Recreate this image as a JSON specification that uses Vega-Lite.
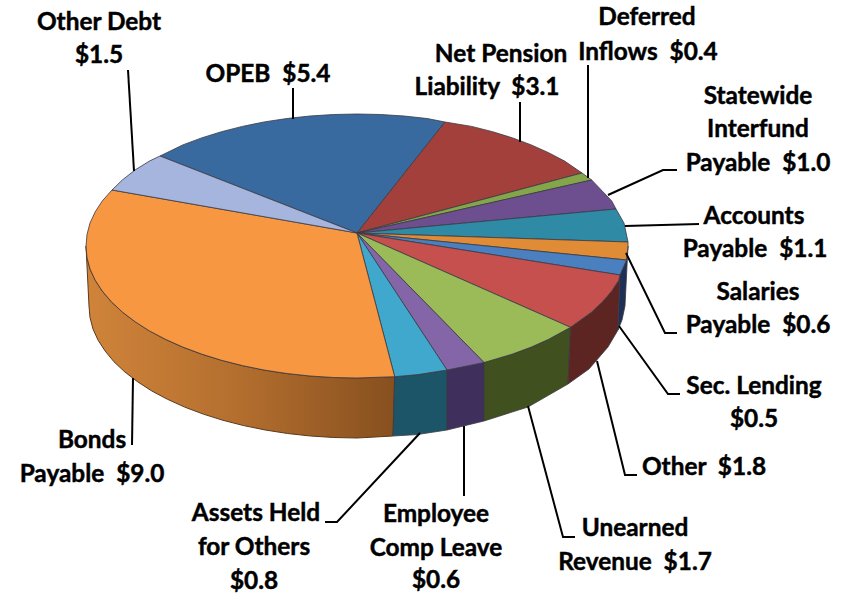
{"$schema":"https://vega.github.io/schema/vega-lite/v6.json","autosize":{"type":"fit","contains":"padding"},"width":852,"height":596,"padding":0,"background":"white","config":{"view":{"stroke":null}},
"datasets":{
"pie":[
{"piece":"Bonds side","seq":0,"x":394.7,"y":376.7},{"piece":"Bonds side","seq":1,"x":357,"y":378},{"piece":"Bonds side","seq":2,"x":333.4,"y":377.5},{"piece":"Bonds side","seq":3,"x":310,"y":376},{"piece":"Bonds side","seq":4,"x":286.8,"y":373.5},{"piece":"Bonds side","seq":5,"x":264.3,"y":370.1},{"piece":"Bonds side","seq":6,"x":242.4,"y":365.6},{"piece":"Bonds side","seq":7,"x":221.5,"y":360.3},{"piece":"Bonds side","seq":8,"x":201.6,"y":354.1},{"piece":"Bonds side","seq":9,"x":182.8,"y":347.1},{"piece":"Bonds side","seq":10,"x":165.4,"y":339.3},{"piece":"Bonds side","seq":11,"x":149.4,"y":330.9},{"piece":"Bonds side","seq":12,"x":135,"y":321.7},{"piece":"Bonds side","seq":13,"x":122.3,"y":312},{"piece":"Bonds side","seq":14,"x":111.4,"y":301.8},{"piece":"Bonds side","seq":15,"x":102.3,"y":291.1},{"piece":"Bonds side","seq":16,"x":95.2,"y":280.2},{"piece":"Bonds side","seq":17,"x":90,"y":269},{"piece":"Bonds side","seq":18,"x":87,"y":257.5},{"piece":"Bonds side","seq":19,"x":86,"y":246},{"piece":"Bonds side","seq":20,"x":89,"y":306},{"piece":"Bonds side","seq":21,"x":90,"y":317.5},{"piece":"Bonds side","seq":22,"x":93,"y":329},{"piece":"Bonds side","seq":23,"x":98.1,"y":340.2},{"piece":"Bonds side","seq":24,"x":105.2,"y":351.1},{"piece":"Bonds side","seq":25,"x":114,"y":361.8},{"piece":"Bonds side","seq":26,"x":124.9,"y":372},{"piece":"Bonds side","seq":27,"x":137.5,"y":381.7},{"piece":"Bonds side","seq":28,"x":151.7,"y":390.9},{"piece":"Bonds side","seq":29,"x":167.5,"y":399.3},{"piece":"Bonds side","seq":30,"x":184.7,"y":407.1},{"piece":"Bonds side","seq":31,"x":203.3,"y":414.1},{"piece":"Bonds side","seq":32,"x":223,"y":420.3},{"piece":"Bonds side","seq":33,"x":243.7,"y":425.6},{"piece":"Bonds side","seq":34,"x":265.3,"y":430},{"piece":"Bonds side","seq":35,"x":287.6,"y":433.5},{"piece":"Bonds side","seq":36,"x":310.5,"y":436},{"piece":"Bonds side","seq":37,"x":333.7,"y":437.5},{"piece":"Bonds side","seq":38,"x":357,"y":438},{"piece":"Bonds side","seq":39,"x":393,"y":436},
{"piece":"Assets side","seq":0,"x":447,"y":370},{"piece":"Assets side","seq":1,"x":418,"y":374.6},{"piece":"Assets side","seq":2,"x":394.7,"y":376.7},{"piece":"Assets side","seq":3,"x":393,"y":436},{"piece":"Assets side","seq":4,"x":417,"y":434.6},{"piece":"Assets side","seq":5,"x":447,"y":430},
{"piece":"Employee side","seq":0,"x":484,"y":362.5},{"piece":"Employee side","seq":1,"x":447,"y":370},{"piece":"Employee side","seq":2,"x":447,"y":430},{"piece":"Employee side","seq":3,"x":484,"y":421},
{"piece":"Unearned side","seq":0,"x":570.5,"y":327.3},{"piece":"Unearned side","seq":1,"x":548.6,"y":339.3},{"piece":"Unearned side","seq":2,"x":531.2,"y":347.1},{"piece":"Unearned side","seq":3,"x":512.4,"y":354.1},{"piece":"Unearned side","seq":4,"x":484,"y":362.5},{"piece":"Unearned side","seq":5,"x":484,"y":421},{"piece":"Unearned side","seq":6,"x":528,"y":407},{"piece":"Unearned side","seq":7,"x":568,"y":384},
{"piece":"Other side","seq":0,"x":620,"y":275},{"piece":"Other side","seq":1,"x":618.8,"y":280.2},{"piece":"Other side","seq":2,"x":611.7,"y":291.1},{"piece":"Other side","seq":3,"x":602.5,"y":301.8},{"piece":"Other side","seq":4,"x":591.7,"y":312},{"piece":"Other side","seq":5,"x":570.5,"y":327.3},{"piece":"Other side","seq":6,"x":568,"y":384},{"piece":"Other side","seq":7,"x":589,"y":369},{"piece":"Other side","seq":8,"x":608,"y":347},{"piece":"Other side","seq":9,"x":618,"y":330},
{"piece":"Sec side","seq":0,"x":628,"y":246},{"piece":"Sec side","seq":1,"x":626.5,"y":260},{"piece":"Sec side","seq":2,"x":620,"y":275},{"piece":"Sec side","seq":3,"x":618,"y":330},{"piece":"Sec side","seq":4,"x":622,"y":320},{"piece":"Sec side","seq":5,"x":625,"y":306},
{"piece":"OPEB","seq":0,"x":357,"y":233},{"piece":"OPEB","seq":1,"x":160,"y":156},{"piece":"OPEB","seq":2,"x":182.8,"y":144.9},{"piece":"OPEB","seq":3,"x":201.6,"y":137.9},{"piece":"OPEB","seq":4,"x":221.5,"y":131.7},{"piece":"OPEB","seq":5,"x":242.4,"y":126.4},{"piece":"OPEB","seq":6,"x":264.3,"y":121.9},{"piece":"OPEB","seq":7,"x":286.8,"y":118.5},{"piece":"OPEB","seq":8,"x":310,"y":116},{"piece":"OPEB","seq":9,"x":333.4,"y":114.5},{"piece":"OPEB","seq":10,"x":357,"y":114},{"piece":"OPEB","seq":11,"x":380.6,"y":114.5},{"piece":"OPEB","seq":12,"x":404,"y":116},{"piece":"OPEB","seq":13,"x":427.1,"y":118.5},{"piece":"OPEB","seq":14,"x":445,"y":122},
{"piece":"Net Pension Liability","seq":0,"x":357,"y":233},{"piece":"Net Pension Liability","seq":1,"x":445,"y":122},{"piece":"Net Pension Liability","seq":2,"x":471.6,"y":126.4},{"piece":"Net Pension Liability","seq":3,"x":492.5,"y":131.7},{"piece":"Net Pension Liability","seq":4,"x":512.6,"y":137.9},{"piece":"Net Pension Liability","seq":5,"x":531.2,"y":144.9},{"piece":"Net Pension Liability","seq":6,"x":548.6,"y":152.7},{"piece":"Net Pension Liability","seq":7,"x":564.6,"y":161.1},{"piece":"Net Pension Liability","seq":8,"x":582,"y":173},
{"piece":"Deferred Inflows","seq":0,"x":357,"y":233},{"piece":"Deferred Inflows","seq":1,"x":582,"y":173},{"piece":"Deferred Inflows","seq":2,"x":591.7,"y":180},
{"piece":"Statewide Interfund Payable","seq":0,"x":357,"y":233},{"piece":"Statewide Interfund Payable","seq":1,"x":591.7,"y":180},{"piece":"Statewide Interfund Payable","seq":2,"x":611.7,"y":200.9},{"piece":"Statewide Interfund Payable","seq":3,"x":616,"y":209},
{"piece":"Accounts Payable","seq":0,"x":357,"y":233},{"piece":"Accounts Payable","seq":1,"x":616,"y":209},{"piece":"Accounts Payable","seq":2,"x":624,"y":223.1},{"piece":"Accounts Payable","seq":3,"x":628,"y":242},
{"piece":"Salaries Payable","seq":0,"x":357,"y":233},{"piece":"Salaries Payable","seq":1,"x":628,"y":242},{"piece":"Salaries Payable","seq":2,"x":628,"y":246},{"piece":"Salaries Payable","seq":3,"x":626.5,"y":260},
{"piece":"Sec. Lending","seq":0,"x":357,"y":233},{"piece":"Sec. Lending","seq":1,"x":626.5,"y":260},{"piece":"Sec. Lending","seq":2,"x":620,"y":275},
{"piece":"Other","seq":0,"x":357,"y":233},{"piece":"Other","seq":1,"x":620,"y":275},{"piece":"Other","seq":2,"x":618.8,"y":280.2},{"piece":"Other","seq":3,"x":611.7,"y":291.1},{"piece":"Other","seq":4,"x":602.5,"y":301.8},{"piece":"Other","seq":5,"x":591.7,"y":312},{"piece":"Other","seq":6,"x":570.5,"y":327.3},
{"piece":"Unearned Revenue","seq":0,"x":357,"y":233},{"piece":"Unearned Revenue","seq":1,"x":570.5,"y":327.3},{"piece":"Unearned Revenue","seq":2,"x":548.6,"y":339.3},{"piece":"Unearned Revenue","seq":3,"x":531.2,"y":347.1},{"piece":"Unearned Revenue","seq":4,"x":512.4,"y":354.1},{"piece":"Unearned Revenue","seq":5,"x":484,"y":362.5},
{"piece":"Employee Comp Leave","seq":0,"x":357,"y":233},{"piece":"Employee Comp Leave","seq":1,"x":484,"y":362.5},{"piece":"Employee Comp Leave","seq":2,"x":447,"y":370},
{"piece":"Assets Held for Others","seq":0,"x":357,"y":233},{"piece":"Assets Held for Others","seq":1,"x":447,"y":370},{"piece":"Assets Held for Others","seq":2,"x":418,"y":374.6},{"piece":"Assets Held for Others","seq":3,"x":394.7,"y":376.7},
{"piece":"Bonds Payable","seq":0,"x":357,"y":233},{"piece":"Bonds Payable","seq":1,"x":394.7,"y":376.7},{"piece":"Bonds Payable","seq":2,"x":357,"y":378},{"piece":"Bonds Payable","seq":3,"x":333.4,"y":377.5},{"piece":"Bonds Payable","seq":4,"x":310,"y":376},{"piece":"Bonds Payable","seq":5,"x":286.8,"y":373.5},{"piece":"Bonds Payable","seq":6,"x":264.3,"y":370.1},{"piece":"Bonds Payable","seq":7,"x":242.4,"y":365.6},{"piece":"Bonds Payable","seq":8,"x":221.5,"y":360.3},{"piece":"Bonds Payable","seq":9,"x":201.6,"y":354.1},{"piece":"Bonds Payable","seq":10,"x":182.8,"y":347.1},{"piece":"Bonds Payable","seq":11,"x":165.4,"y":339.3},{"piece":"Bonds Payable","seq":12,"x":149.4,"y":330.9},{"piece":"Bonds Payable","seq":13,"x":135,"y":321.7},{"piece":"Bonds Payable","seq":14,"x":122.3,"y":312},{"piece":"Bonds Payable","seq":15,"x":111.4,"y":301.8},{"piece":"Bonds Payable","seq":16,"x":102.3,"y":291.1},{"piece":"Bonds Payable","seq":17,"x":95.2,"y":280.2},{"piece":"Bonds Payable","seq":18,"x":90,"y":269},{"piece":"Bonds Payable","seq":19,"x":87,"y":257.5},{"piece":"Bonds Payable","seq":20,"x":86,"y":246},{"piece":"Bonds Payable","seq":21,"x":87,"y":234.5},{"piece":"Bonds Payable","seq":22,"x":90,"y":223.1},{"piece":"Bonds Payable","seq":23,"x":95.2,"y":211.8},{"piece":"Bonds Payable","seq":24,"x":102.3,"y":200.9},{"piece":"Bonds Payable","seq":25,"x":112,"y":190},
{"piece":"Other Debt","seq":0,"x":357,"y":233},{"piece":"Other Debt","seq":1,"x":112,"y":190},{"piece":"Other Debt","seq":2,"x":122.3,"y":180},{"piece":"Other Debt","seq":3,"x":135,"y":170},{"piece":"Other Debt","seq":4,"x":149.4,"y":161.1},{"piece":"Other Debt","seq":5,"x":160,"y":156}
],
"leaders":[
{"leader":"Other Debt","seq":0,"x":128,"y":70},{"leader":"Other Debt","seq":1,"x":134,"y":171},
{"leader":"OPEB","seq":0,"x":293,"y":88},{"leader":"OPEB","seq":1,"x":293,"y":119},
{"leader":"Net Pension","seq":0,"x":520,"y":102},{"leader":"Net Pension","seq":1,"x":520,"y":142},
{"leader":"Deferred","seq":0,"x":588,"y":65},{"leader":"Deferred","seq":1,"x":588,"y":178},
{"leader":"Statewide","seq":0,"x":608,"y":195},{"leader":"Statewide","seq":1,"x":663,"y":170},{"leader":"Statewide","seq":2,"x":677,"y":170},
{"leader":"Accounts","seq":0,"x":625,"y":226},{"leader":"Accounts","seq":1,"x":699,"y":224},
{"leader":"Salaries","seq":0,"x":626,"y":253},{"leader":"Salaries","seq":1,"x":665,"y":333},{"leader":"Salaries","seq":2,"x":677,"y":333},
{"leader":"Sec","seq":0,"x":619,"y":326},{"leader":"Sec","seq":1,"x":668,"y":394},{"leader":"Sec","seq":2,"x":680,"y":394},
{"leader":"Other","seq":0,"x":597,"y":361},{"leader":"Other","seq":1,"x":625,"y":475},{"leader":"Other","seq":2,"x":637,"y":475},
{"leader":"Unearned","seq":0,"x":528,"y":406},{"leader":"Unearned","seq":1,"x":563,"y":537},{"leader":"Unearned","seq":2,"x":575,"y":537},
{"leader":"Employee","seq":0,"x":464,"y":426},{"leader":"Employee","seq":1,"x":464,"y":496},
{"leader":"Assets","seq":0,"x":420,"y":433},{"leader":"Assets","seq":1,"x":337,"y":522},{"leader":"Assets","seq":2,"x":325,"y":522},
{"leader":"Bonds","seq":0,"x":133,"y":378},{"leader":"Bonds","seq":1,"x":132,"y":445}
],
"labels":[
{"text":"Other Debt","x":99,"y":22},{"text":"$1.5","x":99,"y":55},
{"text":"OPEB\u00a0\u00a0$5.4","x":268,"y":74},
{"text":"Net Pension","x":501,"y":54},{"text":"Liability\u00a0\u00a0$3.1","x":487,"y":87},
{"text":"Deferred","x":647,"y":17},{"text":"Inflows\u00a0\u00a0$0.4","x":648,"y":52},
{"text":"Statewide","x":758,"y":96},{"text":"Interfund","x":758,"y":129},{"text":"Payable\u00a0\u00a0$1.0","x":758,"y":163},
{"text":"Accounts","x":754,"y":216},{"text":"Payable\u00a0\u00a0$1.1","x":755,"y":249},
{"text":"Salaries","x":758,"y":292},{"text":"Payable\u00a0\u00a0$0.6","x":758,"y":325},
{"text":"Sec. Lending","x":754,"y":386},{"text":"$0.5","x":754,"y":419},
{"text":"Other\u00a0\u00a0$1.8","x":704,"y":467},
{"text":"Unearned","x":635,"y":528},{"text":"Revenue\u00a0\u00a0$1.7","x":635,"y":562},
{"text":"Employee","x":436,"y":514},{"text":"Comp Leave","x":436,"y":548},{"text":"$0.6","x":436,"y":580},
{"text":"Assets Held","x":256,"y":513},{"text":"for Others","x":254,"y":547},{"text":"$0.8","x":254,"y":581},
{"text":"Bonds","x":92,"y":440},{"text":"Payable\u00a0\u00a0$9.0","x":92,"y":474}
]},
"encoding":{
"x":{"field":"x","type":"quantitative","scale":{"domain":[0,852],"nice":false,"zero":false},"axis":null},
"y":{"field":"y","type":"quantitative","scale":{"domain":[596,0],"nice":false,"zero":false},"axis":null}},
"layer":[
{"data":{"name":"pie"},"transform":[{"filter":"datum.piece==='Bonds side'"}],
"mark":{"type":"line","interpolate":"linear-closed","fill":{"gradient":"linear","x1":0,"y1":0,"x2":1,"y2":0,"stops":[{"offset":0,"color":"#d0843a"},{"offset":0.5,"color":"#b36e2e"},{"offset":1,"color":"#87501f"}]},"stroke":"#5a3a1c","strokeWidth":1},
"encoding":{"order":{"field":"seq","type":"quantitative"}}},
{"data":{"name":"pie"},"transform":[{"filter":"datum.piece!=='Bonds side'"}],
"mark":{"type":"line","interpolate":"linear-closed","stroke":"#3a3a44","strokeWidth":1,"strokeOpacity":0.8},
"encoding":{"order":{"field":"seq","type":"quantitative"},"fill":{"field":"piece","type":"nominal","legend":null,"scale":{"domain":["Assets side","Employee side","Unearned side","Other side","Sec side","OPEB","Net Pension Liability","Deferred Inflows","Statewide Interfund Payable","Accounts Payable","Salaries Payable","Sec. Lending","Other","Unearned Revenue","Employee Comp Leave","Assets Held for Others","Bonds Payable","Other Debt"],"range":["#1d5568","#3f2f5c","#40501f","#5c2522","#1f2f55","#386a9f","#a4403c","#84a54a","#6d4f90","#2f8aa6","#e08b35","#4a7fc0","#c5504e","#9bbb59","#8466a8","#40a8cc","#f79741","#a6b5dd"]}}}},
{"data":{"name":"leaders"},"mark":{"type":"line","color":"#000000","strokeWidth":2},"encoding":{"detail":{"field":"leader"},"order":{"field":"seq","type":"quantitative"}}},
{"data":{"name":"labels"},"mark":{"type":"text","font":"Lato","fontWeight":"bold","fontSize":24.4,"dy":1,"fill":"#000000","stroke":"#000000","strokeWidth":0.45,"align":"center","baseline":"middle"},"encoding":{"text":{"field":"text"}}}
]}
